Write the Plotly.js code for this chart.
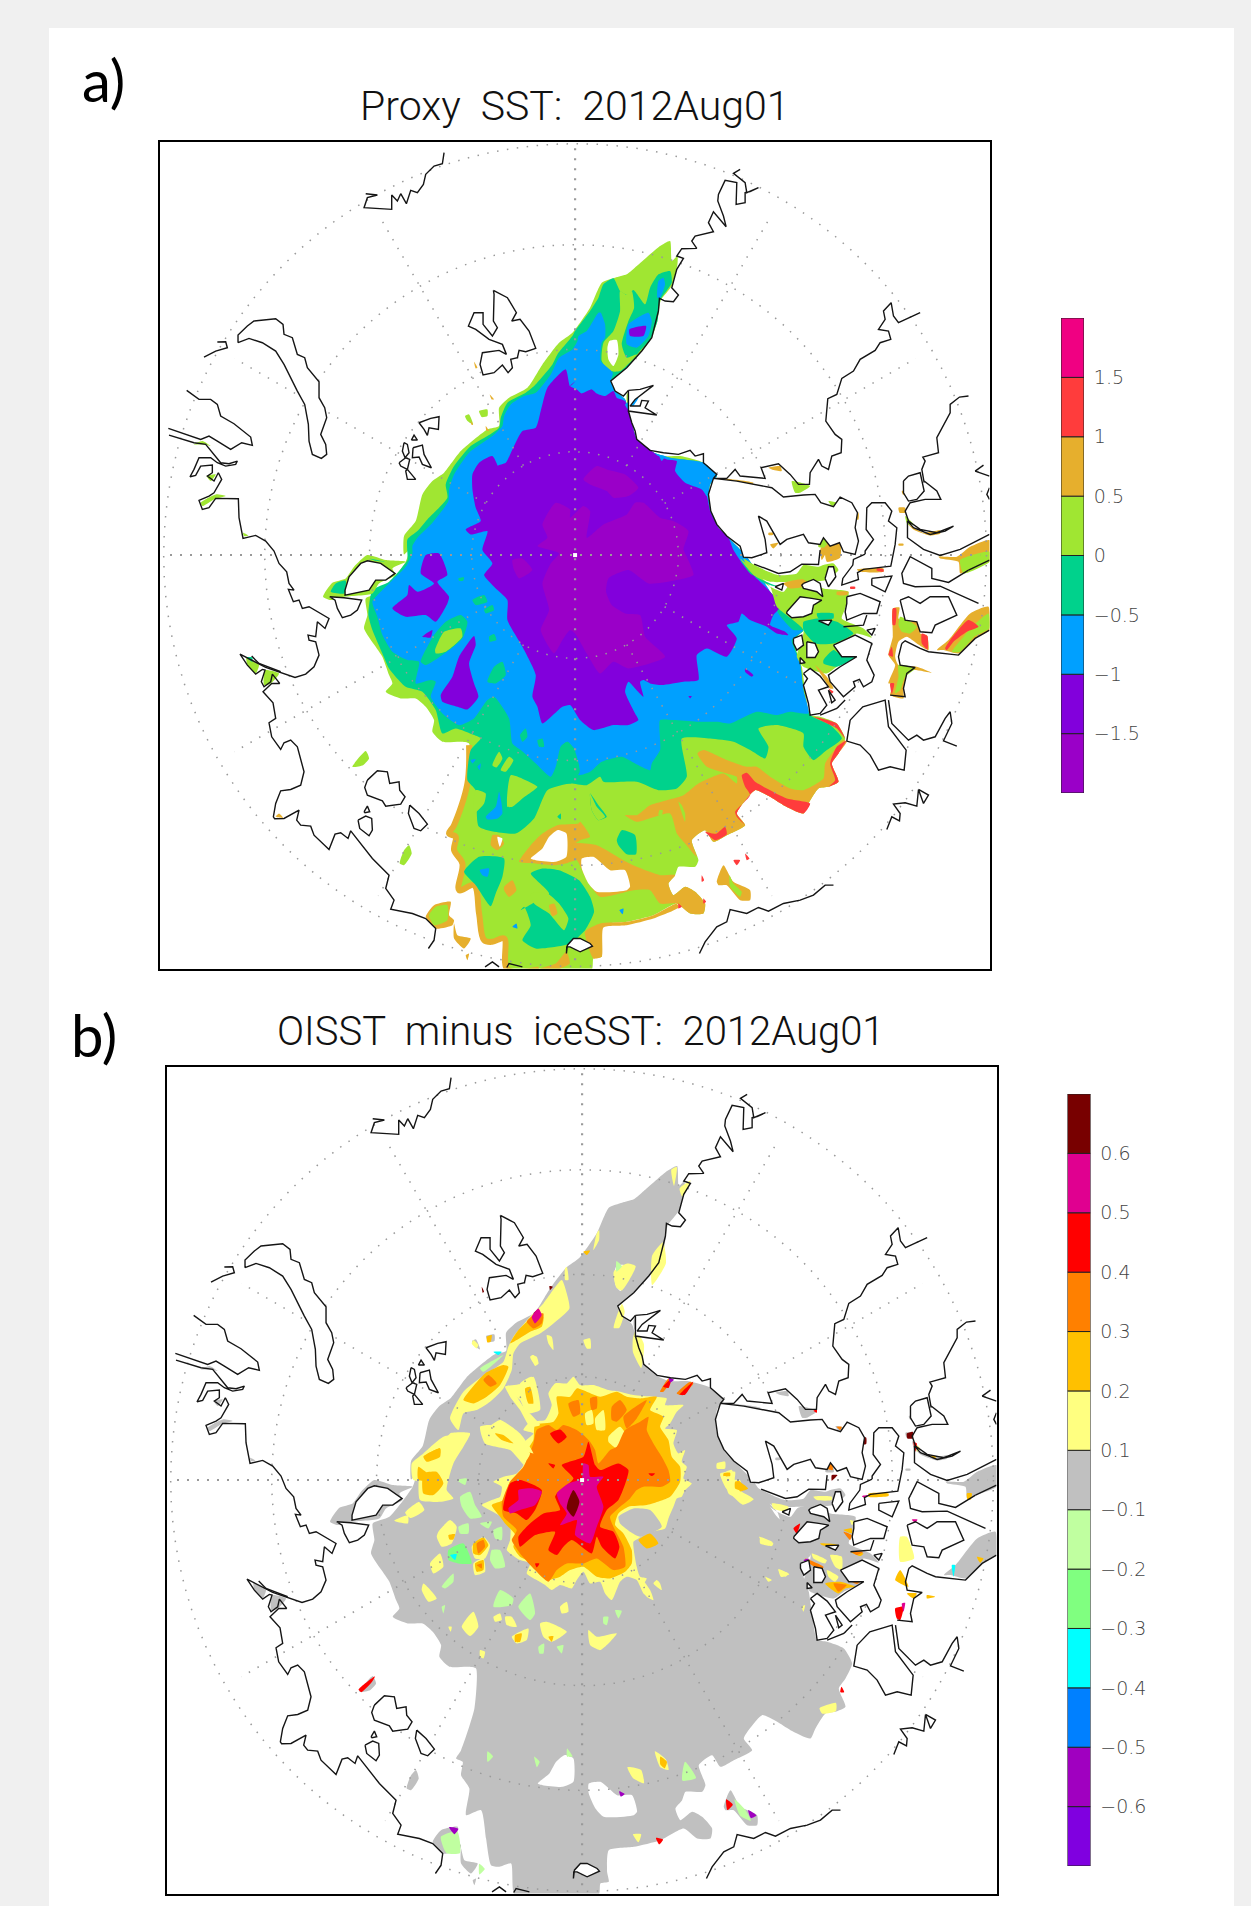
<!DOCTYPE html>
<html><head><meta charset="utf-8">
<script src="https://cdn.plot.ly/plotly-3.0.1.min.js"></script>
<style>html,body{margin:0;padding:0;background:#f0f0f0}#c{width:1251px;height:1906px}</style>
</head><body><div id="c"></div>
<script>
// ---------- map coordinates: triple-scale map units, origin at the upper left of panel a ----------
const shift=(a,dx,dy)=>a.map((v,i)=>i%2?v+dy:v+dx);
const q1=a=>a, q2=a=>shift(a,1233,0), q3=a=>shift(a,0,1227), q4=a=>shift(a,1233,1227);
const zc=a=>shift(a,762,852);
const zl=a=>shift(a,402,342);
const zr=a=>shift(a,1782,942);
const zw=a=>a.map((v,i)=>i%2?1.607*v-18:1.646*v-48);

// ---------- colour levels ----------
const levelsA=[-2,-1.5,-1,-0.5,0,0.5,1,1.5];
const colorsA=['#9a00c8','#8200dc','#00a0ff','#00d28c','#a0e632','#e6af2d','#ff3c3c','#f00082'];
const tickA=[-1.5,-1,-0.5,0,0.5,1,1.5];
const tickTextA=['\u22121.5','\u22121','\u22120.5','0','0.5','1','1.5'];
const colorsB=['#8000e0','#a000c0','#0080ff','#00ffff','#80ff80','#c0ffa0','#c0c0c0','#ffff80','#ffc000','#ff8000','#ff0000','#e00090','#780000'];
const tickTextB=['\u22120.6','\u22120.5','\u22120.4','\u22120.3','\u22120.2','\u22120.1','0.1','0.2','0.3','0.4','0.5','0.6'];
const [PUR2,PUR,BLU,GRN,LIM,ORA,RED]=colorsA;
const [VIO,PLM,AZU,CYA,MGR,LGR,GRY,YEL,GLD,DOR,CRD,MAG,MAR]=colorsB;

// ---------- graticule ----------
const ringRadii=[310,617,931,1234];
const spokeAngles=[30,60,120,150,210,240,300,330];

// ---------- ice-covered area ----------
const iceOuter=[...q2([300,300,305,360,322,345,322,370,305,435,272,478,262,540,245,590,215,630,170,680,122,722,135,750,165,775,175,810,185,845,200,895,240,930,275,945,330,945,400,965,440,1005,420,1030,415,1070,422,1110,445,1160,475,1190,510,1225]),
 ...q4([530,20,600,125,640,160,700,240,670,270,695,350,705,420,720,495,750,500,800,520,825,565,805,610,785,640,805,695,775,710,745,715,715,760,700,790,640,765,600,740,555,720,530,745,500,790,525,825,470,855,430,875,405,840,365,870,385,930,375,950,325,950,315,975,295,1000,310,1035,345,1010,375,1025,405,1060,400,1090,360,1090,320,1060,250,1095,170,1115,95,1125,90,1190,95,1220,70,1225,65,1258]),
 ...q3([1140,1258,1045,1258,1035,1165,1000,1175,975,1170,960,1090,945,1005,900,1020,910,940,885,900,890,860,870,850,885,825,925,700,930,580,905,575,850,575,820,545,825,510,800,470,770,445,725,445,680,425,700,400,690,375,670,320,650,290,615,235,625,195,620,145,670,125,740,35,750,0]),
 ...q1([735,1240,735,1185,770,1140,790,1060,820,1020,855,995,905,930,985,865,1020,855,1020,800,1050,770,1105,740,1150,670,1200,605,1240,575]),
 ...q2([60,500,95,425,135,410,170,400,200,375,270,315])];
const southWestRim=[...q3([930,585,925,700,885,825,870,850,890,860,885,900,910,940,900,1020,945,1005,960,1090,975,1170,1000,1175,1035,1165,1045,1258,1140,1258])];
const greenMain=[...q2([100,430,130,412,150,450,172,462,190,447,225,490,240,440,265,400,300,390,305,425,270,478,262,540,240,595,205,635,170,680,122,722,135,750,165,775,175,810,185,845,200,895,240,930,300,950,400,965,440,1005,420,1030,415,1070,422,1110,445,1160,475,1190,510,1225]),
 ...q4([530,20,600,125,640,160,700,240,670,270,690,340,700,420,720,495,780,525,815,565,770,600,730,630,700,590,700,550,620,525,565,535,595,590,585,625,540,600,490,575,420,565,335,565,350,680,320,715,265,720,200,695,100,695,90,680,50,705,0,700]),
 ...q3([1165,720,1125,805,1070,850,960,830,950,720,925,690,935,600,965,565,945,555,890,535,850,550,830,480,790,425,740,410,690,355,670,310,640,240,628,195,640,120,690,95,745,30]),
 ...q1([745,1235,745,1195,775,1170,805,1135,865,1070,860,1030,885,975,935,915,985,885,1020,860,1025,830,1045,785,1100,755,1125,735,1180,670,1195,640,1240,585]),
 ...q2([15,570,60,510,85,470])];
const limeRibbonN=q2([150,450,170,462,185,450,192,500,175,540,155,610,170,650,200,640,150,690,120,690,95,660,100,605,130,570,150,510]);
const holeN=q2([118,600,140,597,145,640,130,675,115,655,112,620]);
const blueMain=[...q2([92,515,105,550,105,590,95,605,92,660,128,695,122,722,135,750,165,775,175,810,185,845,200,895,240,930,300,950,400,965,440,1005,420,1030,415,1070,422,1110,445,1160,475,1190,510,1225]),
 ...q4([530,20,600,125,625,190,670,240,700,240,665,270,690,340,700,420,715,490,660,485,620,495,560,485,480,520,440,515,380,515,310,510,270,510,270,600,245,640,240,660,195,640,155,620,95,635,60,665,25,675,15,630,15,600]),
 ...q3([1225,575,1205,590,1190,650,1175,680,1130,640,1085,600,1060,580,1050,505,1005,440,985,450,945,505,900,525,850,490,815,440,830,395,815,390,770,400,780,335,745,330,700,305,670,255,655,200,640,155,690,100,740,50,760,10]),
 ...q1([760,1215,775,1190,820,1145,868,1080,870,1045,885,1000,930,935,1000,885,1030,855,1035,825,1055,790,1095,765,1130,755,1175,700,1200,650,1240,625,1255,600]),
 ...q2([25,585,50,570,60,555,85,515])];
const blueN1=q2([175,550,235,515,245,540,235,585,200,620,170,610]);
const blueN2=q2([265,420,280,410,285,430,270,470,262,470]);
const purpleN=q2([178,565,228,555,220,585,180,585]);
const purpleMain=[...q2([0,735,20,745,35,757,65,745,80,757,105,765,130,750,140,770,165,780,175,810,185,845,200,895,240,925,265,945,290,955,320,960,315,990,345,1025,395,1045,410,1065,420,1110,445,1160,475,1190,490,1227]),
 ...q4([520,45,560,85,600,125,630,170,610,195,600,225,645,245,655,255,620,250,590,230,540,210,515,190,505,215,470,225,500,265,470,320,410,295,380,315,385,390,340,395,275,405,240,400,220,390,210,395,220,440,195,415,175,395,165,425,195,490,205,510,175,525,130,525,70,540,30,510,0,465]),
 ...q3([1210,470,1150,520,1135,470,1120,440,1130,375,1090,290,1045,210,1045,150,1005,110,975,75,1000,40,970,0]),
 ...q1([985,1170,935,1180,920,1165,965,1140,950,1100,940,1045,940,1000,960,965,1000,945,1030,1010,1015,975,1040,965,1060,925,1090,870,1130,860,1145,810,1165,740,1220,685,1233,735,1250,720])];
const purpleW1=q3([700,175,745,135,750,105,775,125,825,100,785,70,800,15,840,10,865,75,835,95,870,140,865,160,830,215,800,195,740,200]);
const purpleW2=q3([845,435,880,380,900,320,945,258,950,285,930,340,945,400,958,440,925,478,895,470,850,455]);
const plumMain=[...q2([0,1130,40,1095,60,1110,50,1190,100,1150,170,1120,195,1085,220,1085,270,1130,310,1140,355,1170,340,1225]),
 ...q4([350,20,370,75,310,92,235,100,175,60,115,85,108,125,125,165,165,190,210,195,225,260,285,320,175,355,130,335,90,370,50,310,15,250,0,240]),
 ...q3([1210,270,1185,310,1145,240,1170,180,1150,100,1175,40,1200,10]),
 ...q1([1135,1215,1165,1190,1150,1150,1190,1085,1233,1105])];
const plumN=q2([40,1015,80,975,110,985,165,1000,205,1040,175,1065,130,1070,110,1050,60,1030]);
const plumW=q3([1060,30,1090,25,1120,60,1080,85,1065,60]);
// small interior patches of panel a
const greenW1=q3([785,335,825,255,860,215,905,195,925,215,910,265,850,315,800,345]);
const limeW1=q3([828,300,855,245,905,235,910,260,860,305,830,310]);
const greenSpots=[q3([985,395,1005,350,1030,335,1040,375,1010,400]),q3([940,150,975,135,985,155,950,165]),q3([975,180,1000,165,1005,180,980,190]),q3([1083,555,1100,535,1105,560,1090,575]),q3([1135,570,1150,565,1155,590,1140,590]),q3([990,260,1005,252,1012,270,992,275]),q3([898,85,915,82,912,92,900,92]),q3([1200,650,1205,590,1225,575,1250,610,1262,665,1235,700,1190,690])];
const purpleDots=[q3([790,260,820,240,815,262]),q4([525,355,550,375,545,380,525,365]),q4([355,438,365,438,360,445])];
const limeS=[q3([1000,645,1020,605,1030,625,1012,652]),q3([1025,660,1050,620,1063,630,1040,665]),q3([1045,770,1055,675,1100,690,1135,710,1090,745,1060,770]),q3([950,720,980,730,975,760,945,790,945,740]),q4([60,730,80,770,105,800,85,810,65,780])];
const blueS=[q3([935,630,950,628,940,640]),q3([955,650,965,640,962,660]),q3([980,800,1010,770,1020,725,1030,790,1015,805,985,808]),q3([962,960,990,955,985,980,970,975]),q3([1060,1130,1072,1120,1075,1135]),q4([148,1080,160,1075,158,1092])];
const greenS=[q3([915,965,960,920,1035,925,1030,980,1010,1030,995,1068,950,1005]),q4([60,730,85,765,110,800,85,810,65,780]),q4([140,870,155,840,195,855,198,912,170,912,145,885]),q3([1195,800,1205,790,1205,808]),
 [...q3([1115,970,1150,955,1200,960,1260,990]),...q4([60,1040,72,1085,45,1140,0,1180]),...q3([1190,1190,1130,1195,1090,1170,1115,1125,1095,1070,1085,1080,1120,1060,1170,1030])]];
const limeS2=q3([1115,1030,1165,1030,1200,1060,1228,1105,1215,1140,1170,1090,1125,1060]);
const orangeS=[q3([1170,1065,1185,1060,1195,1090,1180,1098]),q3([1000,855,1020,855,1035,880,1015,900,995,885]),q3([1035,1010,1060,990,1072,1020,1050,1040,1035,1020]),
 [...q3([1080,935,1115,885,1150,850,1195,825,1258,820]),...q4([30,815,60,860,30,870,10,885,0,935]),...q3([1190,945,1130,940])],
 q4([382,610,400,600,470,630,530,650,560,650,600,680,660,715,700,720,760,685,765,640,800,590,820,570,830,575,805,610,785,640,805,695,775,710,745,715,715,760,700,790,640,765,600,740,555,720,530,745,500,790,525,825,470,855,430,875,405,840,365,870,380,920,345,880,320,850,300,790,200,815,165,795,200,795,240,765,340,735,385,700,460,670,500,700,500,680,470,670,410,650]),
 q4([0,900,10,880,80,885,160,930,200,950,270,975,315,975,295,1000,310,1035,345,1010,375,1025,405,1060,400,1090,360,1090,320,1060,270,1060,240,1020,190,1020,90,1040,50,990,20,930,0,935]),
 q4([45,1145,90,1120,170,1115,250,1095,320,1060,325,1072,250,1105,170,1125,100,1132,95,1220,70,1225]),
 q3([1222,1205,1232,1240,1195,1258,1135,1258,1190,1240])];
const limeInOrange=[q4([335,765,325,755,345,815,345,790]),q4([268,780,278,780,275,795,265,795])];
const redS=[q4([515,675,530,668,555,695,590,715,650,745,720,760,700,790,640,765,600,740,555,720,530,745,500,790,525,825,500,800,495,785,540,735,525,710]),
 q4([730,500,800,520,825,565,800,535,760,515]),q4([800,590,828,572,805,610,785,640,805,695,775,710,795,690,780,640]),
 q4([405,845,435,870,470,852,465,830,440,850,425,850]),q4([490,930,510,930,500,945]),q4([525,910,538,925,530,930]),q4([395,975,402,990,395,995]),q4([325,1060,335,1070,325,1075]),q4([400,1045,408,1055,400,1060])];
const holeA=q3([1115,925,1150,895,1170,860,1195,840,1222,850,1222,920,1190,935,1130,930]);
const holeB=q4([35,925,70,920,120,960,165,960,180,1010,170,1020,80,1025,55,1000,35,955]);
const holeC=q3([1015,860,1030,865,1022,890]);
// east channels
const chanMid=q4([510,25,545,70,600,110,640,125,660,100,700,90,760,115,835,125,825,175,815,205,880,235,905,262,860,250,830,270,790,285,860,320,800,350,770,370,700,350,680,320,700,240,620,170,600,110]);
const chanTop=q4([520,25,545,40,595,65,625,75,680,70,700,45,745,50,760,45,790,40,805,60,770,90,665,95,600,95,545,70]);
const chanGreen=[q4([700,215,745,205,800,215,850,250,790,280,735,280,700,240]),q4([760,330,790,300,820,320,860,320,800,350,760,340]),q4([510,30,560,85,600,105,640,115,600,100,540,70]),q4([740,190,790,190,790,205,745,205])];
const chanOrange=[q4([755,30,775,0,810,5,810,-20,770,-30,750,0]),q4([860,58,940,55,940,65,870,65]),q4([800,125,835,125,830,135,800,135]),q4([735,345,770,380,790,415,780,415,760,385]),q4([640,100,700,88,740,125,715,110,660,115])];
const chanRed=[q4([920,55,940,58,940,65,920,62]),q4([840,110,855,110,855,116,840,116]),q4([775,415,790,425,785,430])];
const stripA=q4([968,175,988,172,985,205,1005,215,1045,215,1050,250,1070,255,1075,300,1040,280,1010,260,985,275,975,320,985,345,1040,350,1085,368,1030,360,1010,375,1000,420,1000,445,960,435,970,400,955,400,975,345,955,315,968,260]);
const stripALime=[q4([990,200,1040,230,1020,250,995,245,985,225]),q4([985,345,1035,355,1005,380,990,420,975,430,985,380])];
const stripARed=[q4([968,175,978,175,975,225,968,225]),q4([1055,250,1072,258,1072,298,1055,280]),q4([955,315,965,290,968,320]),q4([960,400,972,400,965,432])];
const stripB=q4([1100,300,1135,270,1200,190,1255,170,1258,240,1215,265,1165,310,1120,300]);
const stripBLime=q4([1145,305,1180,260,1200,235,1255,190,1258,235,1215,258,1170,305]);
const stripBRed=q4([1125,295,1140,270,1195,210,1225,230,1190,245,1150,275,1130,300]);
const bandNE=q4([1105,20,1160,20,1200,-10,1258,-30,1258,35,1195,60,1170,70,1165,35,1110,25]);
const bandNELime=q4([1170,30,1258,5,1258,35,1180,70]);
// isolated coastal patches
const islePatchW=q3([492,140,520,98,560,85,585,50,625,15,680,30,740,35,700,55,710,75,660,100,640,130,555,140,515,150]);
const islePatchWGreen=[q3([515,125,530,100,560,92,555,130]),q3([630,25,680,35,650,32])];
const capeLime=[q3([262,322,285,335,300,345,290,370,265,345]),q3([318,360,360,370,335,400,315,405])];
const capeGreen=q3([262,322,280,322,280,335]);
const fleckLime=[q1([918,825,930,820,942,850,925,840]),q1([960,810,985,805,985,825,968,828]),q1([105,910,130,900,155,915,140,910]),q1([143,1005,170,1000,155,1020]),q1([125,1085,170,1060,200,1065,165,1075,130,1095]),q1([252,1175,268,1183,255,1185]),q3([580,650,620,603,630,625,612,645]),q3([722,940,735,900,750,885,758,910,735,945])];
const fleckOrange=[q1([945,662,955,680,950,682]),q1([992,760,1005,775,998,775]),q1([980,855,990,870,982,868]),q1([935,840,942,850,938,852]),q3([350,800,360,790,372,803])];
const patchSW=q3([800,1100,825,1065,875,1055,870,1095,885,1110,880,1125,830,1135]);
const patchSWLime=q3([810,1095,830,1070,865,1065,865,1110,825,1125]);
const patchSW2=[q3([885,1120,895,1155,935,1165,915,1195,885,1165]),q3([920,1215,930,1210,925,1230])];
const patchSE=q4([440,995,460,945,490,995,540,1020,540,1050,510,1050,470,1005,445,1005]);
const patchSELime=q4([478,975,490,1000,515,1025,510,1040,480,1010]);
const q2Lime=[q2([665,1020,720,1035,690,1055,675,1055]),q2([775,1080,800,1085,785,1095]),q2([1005,1125,1030,1150,1012,1150]),q2([170,760,180,750,185,790,172,790]),q2([745,1205,765,1190,770,1218,745,1218])];
const q2Orange=[q2([595,980,630,975,635,990,605,985]),q2([845,1115,865,1115,865,1135,850,1135]),q2([995,1050,1012,1048,1012,1060,998,1060]),q2([985,1100,1005,1100,1005,1115,988,1115]),q2([1015,1150,1060,1175,1110,1168,1110,1178,1080,1183,1030,1165]),q2([595,1175,610,1175,608,1182,595,1182]),q2([985,1208,1000,1208,1000,1213,985,1213]),q2([440,1012,550,1025,545,1032,440,1020]),q2([600,1210,625,1205,610,1222]),q2([765,1215,810,1215,810,1250,770,1262])];
const q2Blue=[q2([165,790,205,770,178,808]),q2([268,945,285,945,275,960]),q2([400,1045,415,1025,410,1065])];
// ---------- panel b colour patches ----------
const yellowCore=zc([310,240,330,215,375,210,395,165,385,130,405,100,440,100,460,80,480,105,520,105,565,120,600,125,640,135,700,140,740,145,735,165,790,165,770,185,750,220,735,235,770,240,760,280,775,310,795,300,785,335,800,350,790,385,815,400,795,420,785,440,770,445,760,470,745,505,735,535,695,545,655,565,640,575,650,650,660,680,680,685,670,705,690,745,670,730,650,690,620,680,600,695,575,750,555,730,540,695,510,700,490,665,470,690,455,715,420,705,395,720,375,705,350,690,320,670,330,640,300,630,270,610,260,600,270,570,270,525,235,495,185,465,215,450,240,440,245,410,220,395,250,380,290,370,310,345,300,330,330,310,310,280,340,250]);
const greyInCore=zc([595,500,640,475,690,480,725,530,660,560,630,545,600,520]);
const goldCore=zc([345,225,400,215,415,190,410,140,450,140,470,115,500,125,540,140,590,125,620,140,660,145,710,140,690,180,730,200,720,230,745,270,755,320,780,350,780,395,750,440,680,465,625,470,595,490,585,525,610,550,635,600,635,640,615,665,570,685,530,680,490,650,450,660,420,680,380,690,355,670,340,640,300,620,280,590,290,560,255,520,240,500,215,465,250,450,270,395,310,370,325,340,310,320,340,270]);
const yellowInCore=[zc([495,190,515,180,520,220,500,225]),zc([525,205,550,180,555,240,530,240]),zc([565,260,600,230,630,280,590,295,565,275])];
const orangeCore=zc([350,240,385,225,410,240,430,225,470,240,490,255,510,275,525,300,535,340,570,300,590,290,615,240,660,215,685,200,680,240,700,280,725,320,745,360,750,395,725,410,670,410,650,420,630,445,600,470,570,500,580,530,610,590,615,650,580,660,530,625,490,640,440,640,410,660,385,695,345,660,300,610,275,570,290,540,250,500,245,460,270,395,310,350,340,280]);
const orangeInCore=[zc([445,160,475,150,480,190,460,200]),zc([510,145,530,140,530,175,515,180]),zc([575,170,600,150,620,180,590,215,575,210]),zc([610,200,680,150,650,205,620,235])];
const redCore=zc([410,430,460,385,425,345,490,320,505,275,525,345,540,360,595,340,625,360,595,450,560,480,540,530,580,545,598,590,585,625,545,590,530,560,515,610,455,570,430,590,410,615,385,600,405,545,345,555,300,590,295,560,330,520,370,490,420,480,405,440]);
const redWest=zc([270,400,300,390,365,420,345,480,320,510,290,490,250,480]);
const redDots=[zc([390,250,420,238,440,260,415,280]),zc([385,340,405,345,400,355]),zc([345,640,358,640,350,652]),zc([685,370,705,370,695,378])];
const magCore=zc([410,430,445,400,485,385,490,340,505,345,510,380,550,380,530,410,550,470,530,530,510,580,465,555,470,510,420,525,440,490,420,460]);
const magWest=zc([295,420,340,415,365,425,345,465,300,480,270,490,265,475,295,450]);
const marCore=zc([445,450,460,420,478,455,460,500,440,475]);
const yellowPatches=[
 zl([625,500,640,470,690,410,730,370,785,300,800,340,808,385,760,430,720,460,660,490,640,520,635,570,610,625,570,665,530,690,490,700,475,750,450,715,490,635,545,590,610,545]),
 zl([615,620,640,635,670,680,720,735,690,740,660,690,630,650]),zl([660,610,695,590,705,660,680,690,665,650]),
 zl([570,740,600,720,660,760,700,820,670,810,630,800,580,790]),
 zl([370,820,430,770,510,760,490,790,450,830,440,870,415,900,340,900,335,850]),
 zl([460,715,475,705,475,730]),zl([695,525,710,530,715,550,705,558]),zl([850,480,870,475,872,505,860,505]),zl([740,465,755,470,760,510,745,490]),zl([520,480,535,495,530,505,515,490]),zl([795,265,800,260,805,300,795,300]),zl([890,160,897,150,897,180,880,210]),
 zc([255,110,310,100,340,80,360,180,320,190,300,150]),zc([180,230,210,225,270,245,330,310,310,340,270,300,195,280]),zc([10,320,70,280,90,250,150,250,130,290,100,340,80,420,100,445,60,455,0,450,0,340]),zc([55,545,90,510,110,530,95,580,65,590,50,560]),zc([30,640,60,610,70,650,40,670]),zc([155,590,190,560,210,585,195,625,165,625]),zc([160,640,190,625,195,665,165,675]),zc([125,830,160,785,175,830,150,858]),zc([360,820,380,815,440,845,395,875,370,860]),zc([505,840,530,860,590,850,565,880,540,900,510,885]),zc([420,770,440,755,445,785,425,790]),zc([10,700,50,745,25,755,5,720]),zc([255,800,275,800,290,830,260,825]),zc([275,860,325,835,320,870,290,880]),zc([220,800,240,790,245,810,225,815]),zc([340,15,355,40,345,45,330,20]),zc([710,690,720,700,725,720,700,700]),zc([660,680,690,720,700,750,680,740]),zc([890,340,915,335,915,355,890,355]),zc([900,370,945,365,940,395,905,385]),zc([920,395,960,390,960,445,925,430]),zc([180,900,195,905,190,925,180,920]),zc([85,830,95,830,92,845]),
 zw([845,500,860,455,865,470,855,500]),zw([880,520,885,505,900,530,895,575,880,545]),zw([845,395,870,380,885,385,860,430,850,425]),zw([915,365,935,340,940,380,915,420]),zw([445,860,470,850,470,865]),zw([465,845,490,825,500,840,475,855]),zw([1040,775,1060,765,1070,800,1100,820,1080,830,1050,800]),zw([1110,890,1135,900,1120,905]),zw([1145,950,1165,960,1150,965]),zw([870,1320,895,1325,900,1350,880,1340]),zw([920,1290,940,1305,945,1325,930,1320]),zw([1220,1210,1250,1200,1250,1215,1225,1220]),zw([880,1445,895,1445,890,1460]),zw([950,205,960,200,955,235]),zw([965,240,985,225,970,255]),
 zr([0,475,40,490,35,498,0,490]),zr([55,570,85,580,75,590]),zr([15,590,35,600,25,605]),zr([35,370,85,380,80,395,40,385]),zr([155,520,200,540,195,550,160,535]),zr([200,570,235,590,225,605,205,590]),zr([210,525,245,530,245,570,225,560]),zr([160,350,215,350,215,360,170,360]),zr([270,420,285,425,275,435]),zr([125,680,135,675,130,695]),zr([420,470,440,470,462,535,420,545]),zr([470,195,480,205,470,215])];
const goldPatches=[
 zl([630,490,655,450,700,410,730,410,725,440,690,455,650,480]),zl([490,660,510,630,555,580,610,555,625,560,600,615,560,650,520,670]),zl([675,625,690,620,700,670,685,670]),zl([585,760,610,765,640,790,605,780]),zl([380,825,420,805,420,820,390,840]),zl([355,860,385,880,410,880,415,900,355,900]),zl([560,470,575,465,572,485,562,487]),zl([850,215,870,212,860,225]),
 zc([10,320,60,295,60,320,20,335]),zc([10,370,50,365,70,400,40,435,10,430]),zc([160,580,190,562,205,585,180,615,160,610]),zc([165,640,190,630,190,660,170,665]),zc([655,570,690,550,715,580,680,595]),zc([910,370,930,368,930,378,910,378]),zc([945,395,960,395,960,420,945,415]),zc([85,555,105,552,100,568,88,568]),zc([285,855,305,850,300,875,285,875]),zc([385,860,400,858,395,875]),
 zw([930,1300,942,1310,938,1322,930,1315]),zw([1070,785,1090,800,1075,805]),
 zr([195,610,240,605,285,620,255,625,235,640]),zr([180,490,235,495,230,505,185,495]),zr([270,515,310,520,300,528]),zr([250,450,275,445,275,460]),zr([620,340,635,340,632,358,622,358]),zr([650,530,670,535,660,548]),zr([405,600,420,570,445,620,420,610]),zr([440,640,470,640,460,655]),zr([500,645,525,650,500,655]),zr([325,340,385,340,385,348,325,350]),zr([510,225,530,230,520,235])];
const orangePatches=[zl([680,425,700,405,730,400,725,430,700,445]),zl([550,600,565,585,590,610,570,620]),zc([170,580,190,570,195,590,175,610]),zc([170,645,185,640,185,655]),zc([720,125,745,85,750,95,730,125]),zc([770,130,810,95,820,100,785,135]),zr([230,140,245,140,240,150]),zr([275,515,310,515,290,525]),zr([250,455,275,465,270,480]),zr([220,610,260,615,235,635]),zr([265,600,300,605,290,612]),zr([135,535,190,560,185,570,140,545]),zr([200,265,215,245,218,270])];
const greenLight=[zc([120,440,150,425,165,465,185,500,150,505,125,470]),zc([110,390,140,385,135,405]),zc([115,530,145,520,145,550,120,550]),zc([180,520,215,515,205,535]),zc([220,540,245,530,245,570,225,565]),zc([215,600,240,600,255,650,225,655,210,630]),zc([220,770,240,720,280,745,275,765]),zc([295,770,330,730,345,790,330,810]),zc([65,770,75,765,70,790]),zc([65,710,100,670,100,695,75,715]),zc([550,800,565,800,560,825,550,820]),zc([585,780,605,782,595,805]),zc([355,890,372,880,370,910,358,910]),zc([410,890,430,885,425,910]),
 zl([540,565,590,535,610,525,600,535,550,575]),
 zw([700,1300,710,1310,705,1320]),zw([760,1285,770,1300,760,1300]),zw([615,1290,625,1300,615,1310]),zw([975,1310,995,1340,970,1345]),zw([530,1450,560,1440,565,1480,540,1480]),zw([600,1500,610,1510,600,1520]),zw([1065,1380,1085,1400,1095,1420,1075,1410]),zw([850,375,860,385,850,395])];
const greenMid=[zc([85,600,130,580,155,640,115,640,85,630])];
const cyanDots=[zc([90,615,110,612,105,630]),zl([580,515,605,515,595,525]),zr([575,555,585,555,580,590])];
const coastSpeckRed=[zr([160,92,170,88,170,98]),zr([460,185,470,190,465,215]),zr([405,685,430,680,420,720,410,715]),zr([100,445,120,430,110,460]),zw([1050,1380,1062,1390,1052,1400]),zw([922,1452,935,1455,928,1464]),zw([1260,1170,1265,1180,1258,1180]),zw([935,610,950,595,945,612]),zw([965,625,990,600,975,625]),zw([380,1175,410,1150,405,1160,385,1180])];
const coastSpeckMar=[zr([298,175,318,172,318,192,300,192]),zr([440,160,458,155,458,175,442,175]),zr([215,285,232,285,215,302]),zl([700,400,712,390,715,400]),zl([748,318,758,320,750,330]),zl([545,320,552,335,548,338])];
const coastSpeckMag=[zr([425,670,435,668,430,695]),zr([305,348,325,345,310,352]),zr([455,418,472,418,465,428]),zl([695,410,715,385,725,405,705,430])];
const coastSpeckPurple=[zw([1090,1400,1105,1410,1095,1415]),zw([545,1432,562,1435,555,1445]),zw([855,1365,865,1370,858,1375]),zw([945,592,955,597,948,602]),zr([130,540,145,535,140,548])];

// ---------- coastlines ----------
const islands=[
 q3([558,120,570,80,605,40,625,32,665,40,708,70,680,90,650,90,630,120,590,128,558,135]),
 q3([512,140,555,143,608,150,595,180,575,195,550,203,535,175,528,150]),
 q3([625,690,655,662,685,665,692,700,720,695,722,720,738,740,725,762,680,768,670,752,625,735,617,712]),
 q3([615,785,625,768,632,785,618,788]),
 q3([597,810,620,798,638,805,640,840,630,857,602,835]),
 q3([752,765,780,790,805,822,785,842,765,835,748,790]),
 q1([1003,448,1045,470,1072,515,1058,540,1083,535,1110,570,1130,622,1100,632,1080,628,1075,650,1055,655,1060,680,1047,695,1030,672,1005,695,972,702,963,670,970,635,1020,628,1042,640,1030,610,990,595,950,565,928,555,945,515,972,515,972,550,1000,585,1015,560,1003,540,1005,460]),
 q1([780,845,815,832,840,827,838,865,810,860,805,883,795,865]),
 q1([757,897,765,882,775,897]),
 q1([735,905,745,910,750,935,738,950,730,930]),
 q1([720,965,740,950,752,955,745,985,725,975]),
 q1([762,920,790,912,795,940,817,980,790,970,780,948,760,950]),
 q1([745,985,770,1015,745,1015,740,990]),
 q1([237,605,237,582,265,555,285,540,350,533,372,550,375,580,400,590,415,640,437,650,445,680,480,722,480,770,497,800,503,830,485,880,500,910,503,940,487,952,460,940,450,900,448,850,437,790,415,750,375,670,350,630,310,605,270,592]),
 q2([430,1012,500,1020,605,1040,640,1068,700,1062,735,1060,752,1085,790,1097,810,1068,845,1085,862,1115,855,1160,865,1200,855,1240,820,1232,808,1205,780,1215,760,1190,750,1210,715,1205,700,1180,650,1195,630,1210,610,1175,590,1140,565,1125,585,1195,590,1235,545,1250,520,1248,510,1215,470,1185,440,1150,422,1110,415,1060]),
 q2([1000,1020,1015,1005,1050,995,1062,1050,1040,1075,1015,1080,1000,1055]),
 q2([175,748,210,745,250,733,215,760,195,775,180,795,210,795,215,778,235,780,225,800,260,822,175,810]),
 q4([615,110,640,100,635,120]),
 q4([700,100,730,88,750,100,758,140,740,125,700,115,695,105]),
 q4([650,185,690,140,725,145,755,150,730,165,725,190,700,200,665,203,650,190]),
 q4([765,85,775,50,790,50,797,80,775,110]),
 q4([745,212,785,210,775,225]),
 q4([830,140,870,130,930,155,920,190,880,190,830,210,825,185,830,160]),
 q4([905,85,965,78,945,125,905,105]),
 q4([890,240,915,235,905,255]),
 q4([670,265,695,255,700,285,680,300,670,280]),
 q4([710,275,735,280,745,305,735,322,710,322]),
 q4([690,322,705,338,690,340]),
 q4([790,285,855,255,905,280,890,330,912,375,905,395,880,410,868,388,850,395,855,410,820,440,780,395,775,375,810,350,860,320,815,320]),
 q4([700,370,720,355,750,378,775,410,745,420,770,465,750,490,720,495,715,460,703,420,700,405,712,385]),
 q4([775,420,795,450,785,458]),
 q4([840,510,878,470,945,450,955,530,1008,600,1002,660,960,650,925,660,900,615,870,585,830,573]),
 q4([990,150,1015,140,1050,160,1080,140,1135,140,1160,195,1095,225,1085,248,1050,245,1040,215,1005,210,995,175]),
 q4([-11,1210,-8,1185,10,1165,30,1165,60,1180,67,1188,30,1205,0,1190,-10,1190])];
const coastTaimyr=q1([855,35,850,68,825,75,800,100,793,130,775,155,755,148,742,188,725,158,715,180,698,162,698,205,615,200,625,170,655,162,620,158]);
const coastBit=q1([135,648,170,630,205,620,200,602,175,603]);
const coastWest1=q1([83,748,120,775,155,775,175,790,185,825,225,848,275,888,280,913,248,905,215,925,175,900,150,885,125,895,28,862]);
const coastWest2=[...q1([30,882,75,895,105,905,140,910,160,935,185,965,210,968,235,960,230,970,200,975,175,965,155,950,120,950,105,985,93,1007,110,1003,125,975,160,972,160,995,145,1005,165,1020,178,995,188,1015,165,1055,150,1065,120,1078,130,1105,150,1100,170,1072,238,1073,240,1130,252,1192,290,1183,320,1200,345,1230]),
 ...q3([360,40,383,65,390,100,405,120,388,118,403,155,420,150,430,175,450,170,510,205,498,235,475,215,470,260,447,255,450,270,470,275,480,315,465,350,440,372,408,382,370,370,320,352,243,312,265,345,290,372,310,358,318,360,307,395,315,410,335,395,340,372,362,400,338,400,312,425,342,458,350,505,330,518,338,560,365,598,375,578,395,570,415,590,435,665,425,705,395,718,365,722,350,760,343,800,347,806,375,805,420,780,413,810,425,825,455,828,465,855,510,898,528,852,545,848,567,865,575,842,640,925,690,975,680,1015,705,1050,695,1077,760,1090,800,1105,830,1135,825,1170,808,1195])];
const coastCape=q3([278,318,300,340,365,365]);
const coastEast=q2([510,85,490,97,525,125,530,155,565,140,540,152,525,155,525,185,498,190,500,125,465,118,445,160,443,180,460,225,468,257,430,212,415,245,430,272,375,285,365,300,380,322,335,323,320,345,340,352,320,385,305,440,325,462,310,482,285,480,268,472,265,510,245,590,215,630,170,680,122,720,135,750,160,765,175,748]);
const coastEast2=q2([175,810,185,845,195,870,200,895,240,928,280,935,325,940,360,928,375,945,400,938,400,965,440,1000,430,1012,470,1012,495,985,510,1005,585,1012,573,980,625,968,660,1000,685,1030,718,1030,720,995,745,955,755,975,775,985,785,945,813,935,815,895,795,880,767,840,773,773,800,760,815,712,850,690,870,655,915,628,930,605,962,595,955,570,925,565,945,535,940,510,963,485,970,525,985,545,1050,515]);
const coastElong=[...q4([885,12]),...q2([885,1230,910,1195,888,1165,890,1100,905,1085,945,1085,965,1110,955,1140,980,1160,975,1210,962,1275]),...q4([880,58,862,68,865,88,815,105,818,85,848,45,850,28,885,12])];
const coastArc1=q2([1062,1020,1100,1050,1112,1075,1065,1075,1020,1085,1005,1110,1015,1140,1050,1165,1100,1175,1150,1155,1125,1170,1080,1180,1030,1160,1012,1140,1012,1190,1060,1225,1110,1243,1170,1225,1258,1180]);
const coastArc2=q2([1062,1025,1055,985,1065,960,1058,948,1105,935,1100,890,1140,815,1140,790,1168,768,1195,765]);
const coastEdge=[q2([1215,990,1240,972]),q2([1215,990,1258,1005]),q2([1258,1040,1250,1060,1258,1075])];
const coastB1=q4([552,42,600,60,625,70,660,65,695,42,745,43,750,0]);
const coastB2=q4([1195,60,1258,30]);
const coastB3=q4([1000,60,1020,20,1085,55,1085,85,1135,97,1195,60]);
const coastB4=q4([1000,60,995,70,1000,100,1035,110,1110,108,1160,130,1225,160]);
const coastB5=q4([995,280,1005,272,1050,295,1075,305,1165,315,1215,265,1258,240]);
const coastB6=q4([995,280,985,320,990,345,1035,352,1010,370,1000,415,1005,440,960,435]);
const coastB7=q4([955,450,965,520,1015,570,1040,555,1060,570,1095,560,1125,505,1140,485,1145,520,1120,572,1160,588]);
const coastB8=q4([750,495,800,475,825,450]);
const coastB9=q4([388,1210,405,1175,440,1130,470,1115,480,1078,530,1090,565,1072,595,1083,640,1060,690,1050,730,1035,765,1005,790,1005]);
const coastB10=q4([950,838,965,800,988,812,990,790,970,762,1005,758,1040,768,1045,718,1060,760,1075,735,1045,718]);
const coastB11=q4([820,230,880,225,890,195]);
const coastB12=q3([978,1250,1000,1235,1020,1250]);
const coastB13=q3([1043,1252,1050,1240,1090,1250]);
const openCoasts=[coastTaimyr,coastBit,coastWest1,coastWest2,coastCape,coastEast,coastEast2,coastElong,coastArc1,coastArc2,...coastEdge,coastB1,coastB2,coastB3,coastB4,coastB5,coastB6,coastB7,coastB8,coastB9,coastB10,coastB11,coastB12,coastB13];

// ---------- build ----------
const xs=a=>a.filter((_,i)=>i%2===0), ys=a=>a.filter((_,i)=>i%2===1);
const traces=[];
function fillP(p,c,ax){const q=[...p,p[0],p[1]];traces.push({type:'scatter',mode:'lines',x:xs(q),y:ys(q),fill:'toself',fillcolor:c,line:{width:0,color:c,shape:'spline',smoothing:0.55},hoverinfo:'skip',showlegend:false,xaxis:ax[0],yaxis:ax[1]});}
function lineP(p,c,w,ax,dash,sp){traces.push({type:'scatter',mode:'lines',x:xs(p),y:ys(p),line:{width:w,color:c,dash:dash||'solid',shape:sp?'spline':'linear'},hoverinfo:'skip',showlegend:false,xaxis:ax[0],yaxis:ax[1]});}
const mask=[iceOuter,chanMid,chanTop,stripB,bandNE,islePatchW,...capeLime,...fleckLime,patchSW,...patchSW2,patchSE,...q2Lime,...q2Orange.slice(0,8)];
const WH='#ffffff';
function addA(ax){
 fillP(iceOuter,LIM,ax); lineP(southWestRim,ORA,6,ax,null,true);
 fillP(greenMain,GRN,ax); fillP(limeRibbonN,LIM,ax);
 fillP(blueMain,BLU,ax); fillP(blueN1,BLU,ax); fillP(blueN2,BLU,ax); fillP(purpleN,PUR,ax);
 fillP(greenW1,GRN,ax); fillP(limeW1,LIM,ax); greenSpots.forEach(p=>fillP(p,GRN,ax));
 fillP(purpleMain,PUR,ax); fillP(purpleW1,PUR,ax); fillP(purpleW2,PUR,ax); purpleDots.forEach(p=>fillP(p,PUR,ax));
 fillP(plumMain,PUR2,ax); fillP(plumN,PUR2,ax); fillP(plumW,PUR2,ax);
 greenS.forEach(p=>fillP(p,GRN,ax)); limeS.forEach(p=>fillP(p,LIM,ax)); fillP(limeS2,LIM,ax); blueS.forEach(p=>fillP(p,BLU,ax));
 orangeS.forEach(p=>fillP(p,ORA,ax)); limeInOrange.forEach(p=>fillP(p,LIM,ax)); redS.forEach(p=>fillP(p,RED,ax));
 fillP(chanMid,LIM,ax); fillP(chanTop,LIM,ax); chanGreen.forEach(p=>fillP(p,GRN,ax)); chanOrange.forEach(p=>fillP(p,ORA,ax)); chanRed.forEach(p=>fillP(p,RED,ax));
 fillP(stripA,ORA,ax); stripALime.forEach(p=>fillP(p,LIM,ax)); stripARed.forEach(p=>fillP(p,RED,ax));
 fillP(stripB,ORA,ax); fillP(stripBLime,LIM,ax); fillP(stripBRed,RED,ax); fillP(bandNE,ORA,ax); fillP(bandNELime,LIM,ax);
 fillP(islePatchW,LIM,ax); islePatchWGreen.forEach(p=>fillP(p,GRN,ax)); capeLime.forEach(p=>fillP(p,LIM,ax)); fillP(capeGreen,GRN,ax);
 fleckLime.forEach(p=>fillP(p,LIM,ax)); fleckOrange.forEach(p=>fillP(p,ORA,ax));
 fillP(patchSW,ORA,ax); fillP(patchSWLime,LIM,ax); patchSW2.forEach(p=>fillP(p,ORA,ax)); fillP(patchSE,ORA,ax); fillP(patchSELime,LIM,ax);
 q2Lime.forEach(p=>fillP(p,LIM,ax)); q2Orange.forEach(p=>fillP(p,ORA,ax)); q2Blue.forEach(p=>fillP(p,BLU,ax));
 [holeN,holeA,holeB,holeC].forEach(p=>fillP(p,WH,ax));
}
function addB(ax){
 mask.forEach(p=>fillP(p,GRY,ax));
 [holeN,holeA,holeB].forEach(p=>fillP(p,WH,ax));
 fillP(yellowCore,YEL,ax); fillP(greyInCore,GRY,ax); fillP(goldCore,GLD,ax); yellowInCore.forEach(p=>fillP(p,YEL,ax));
 fillP(orangeCore,DOR,ax); orangeInCore_.forEach(p=>fillP(p,DOR,ax)); fillP(redCore,CRD,ax); fillP(redWest,CRD,ax); redDots.forEach(p=>fillP(p,CRD,ax));
 fillP(magCore,MAG,ax); fillP(magWest,MAG,ax); fillP(marCore,MAR,ax);
 yellowPatches.forEach(p=>fillP(p,YEL,ax)); goldPatches.forEach(p=>fillP(p,GLD,ax)); orangePatches.forEach(p=>fillP(p,DOR,ax));
 greenLight.forEach(p=>fillP(p,LGR,ax)); greenMid.forEach(p=>fillP(p,MGR,ax)); cyanDots.forEach(p=>fillP(p,CYA,ax));
 coastSpeckRed.forEach(p=>fillP(p,CRD,ax)); coastSpeckMar.forEach(p=>fillP(p,MAR,ax)); coastSpeckMag.forEach(p=>fillP(p,MAG,ax)); coastSpeckPurple.forEach(p=>fillP(p,PLM,ax));
}
const orangeInCore_=orangeInCore;
function addGrid(ax){
 const P=[1248,1242];
 ringRadii.forEach(r=>{const p=[];for(let a=0;a<=360;a+=3){p.push(P[0]+r*Math.cos(a*Math.PI/180),P[1]+r*Math.sin(a*Math.PI/180));}lineP(p,'#999999',1.5,ax,'1.5px,8.5px');});
 spokeAngles.forEach(a=>{const c=Math.cos(a*Math.PI/180),s=Math.sin(a*Math.PI/180);lineP([P[0]+310*c,P[1]+310*s,P[0]+1180*c,P[1]+1180*s],'#999999',1.5,ax,'1.5px,8.5px');});
 lineP([P[0],P[1]-1220,P[0],P[1]+1220],'#999999',2.2,ax,'2px,8px');
 lineP([P[0]-1215,P[1],P[0]+1215,P[1]],'#999999',2,ax,'2px,8px');
}
function addCoast(ax){
 islands.forEach(p=>{const c=[...p,p[0],p[1]];traces.push({type:'scatter',mode:'lines',x:xs(c),y:ys(c),fill:'toself',fillcolor:'#ffffff',line:{width:1.4,color:'#151515'},hoverinfo:'skip',showlegend:false,xaxis:ax[0],yaxis:ax[1]});});
 openCoasts.forEach(p=>lineP(p,'#151515',1.4,ax));
 traces.push({type:'scatter',mode:'markers',x:[1248],y:[1242],marker:{color:'#fff',size:4,symbol:'square'},hoverinfo:'skip',showlegend:false,xaxis:ax[0],yaxis:ax[1]});
}
const axA=['x','y'],axB=['x2','y2'];
addA(axA);addGrid(axA);addCoast(axA);
addB(axB);addGrid(axB);addCoast(axB);
// colour bars
traces.push({type:'bar',x:levelsA.map(()=>0.5),y:levelsA.map(()=>0.5),base:levelsA,width:1,marker:{color:colorsA,line:{color:'#222',width:1}},hoverinfo:'skip',showlegend:false,xaxis:'x3',yaxis:'y3'});
traces.push({type:'bar',x:colorsB.map(()=>0.5),y:colorsB.map(()=>1),base:colorsB.map((_,i)=>i),width:1,marker:{color:colorsB,line:{color:'#222',width:1}},hoverinfo:'skip',showlegend:false,xaxis:'x4',yaxis:'y4'});

const W=1251,H=1906;
const mapAxis=(dom,rng,anchor)=>({domain:dom,range:rng,anchor:anchor,showgrid:false,zeroline:false,showticklabels:false,ticks:'',mirror:true,showline:true,linecolor:'#000',linewidth:2,fixedrange:true});
const X=[3,2491],Y=[2482,3];
const barFont={family:'DejaVu Sans',size:19,color:'#444',weight:200};
const titleFontA={family:'Roboto',size:41,color:'#111',weight:300};
const titleFontB={family:'Roboto',size:40,color:'#111',weight:300};
const panelFont={family:'Lato, Open Sans',size:58,color:'#000'};
const layout={width:W,height:H,margin:{l:0,r:0,t:0,b:0},paper_bgcolor:'#f0f0f0',plot_bgcolor:'#ffffff',showlegend:false,barmode:'overlay',
 shapes:[{type:'rect',xref:'paper',yref:'paper',x0:49/W,x1:1234/W,y0:0,y1:1-28/H,fillcolor:'#ffffff',line:{width:0},layer:'below'}],
 xaxis:mapAxis([160/W,989.5/W],X,'y'),yaxis:mapAxis([1-968.5/H,1-142/H],Y,'x'),
 xaxis2:mapAxis([167/W,996.5/W],X,'y2'),yaxis2:mapAxis([1-1893.5/H,1-1067/H],Y,'x2'),
 xaxis3:{domain:[1061/W,1084/W],range:[0,1],anchor:'y3',visible:false,fixedrange:true},
 yaxis3:{domain:[1-793/H,1-318/H],range:[-2,2],anchor:'x3',side:'right',tickmode:'array',tickvals:tickA,ticktext:tickTextA,ticks:'outside',ticklen:5,tickcolor:'rgba(0,0,0,0)',showgrid:false,zeroline:false,showline:false,tickfont:barFont,fixedrange:true},
 xaxis4:{domain:[1067.5/W,1090.5/W],range:[0,1],anchor:'y4',visible:false,fixedrange:true},
 yaxis4:{domain:[1-1866/H,1-1094/H],range:[0,13],anchor:'x4',side:'right',tickmode:'array',tickvals:tickTextB.map((_,i)=>i+1),ticktext:tickTextB,ticks:'outside',ticklen:5,tickcolor:'rgba(0,0,0,0)',showgrid:false,zeroline:false,showline:false,tickfont:barFont,fixedrange:true},
 annotations:[
  {xref:'paper',yref:'paper',x:574/W,y:1-106/H,xanchor:'center',yanchor:'middle',text:'Proxy  SST:  2012Aug01',showarrow:false,font:titleFontA},
  {xref:'paper',yref:'paper',x:581/W,y:1-1031/H,xanchor:'center',yanchor:'middle',text:'OISST  minus  iceSST:  2012Aug01',showarrow:false,font:titleFontB},
  {xref:'paper',yref:'paper',x:103/W,y:1-80/H,xanchor:'center',yanchor:'middle',text:'a)',showarrow:false,font:panelFont},
  {xref:'paper',yref:'paper',x:94/W,y:1-1034/H,xanchor:'center',yanchor:'middle',text:'b)',showarrow:false,font:panelFont}
 ]};
Plotly.newPlot('c',traces,layout,{displayModeBar:false,staticPlot:true});
</script></body></html>
